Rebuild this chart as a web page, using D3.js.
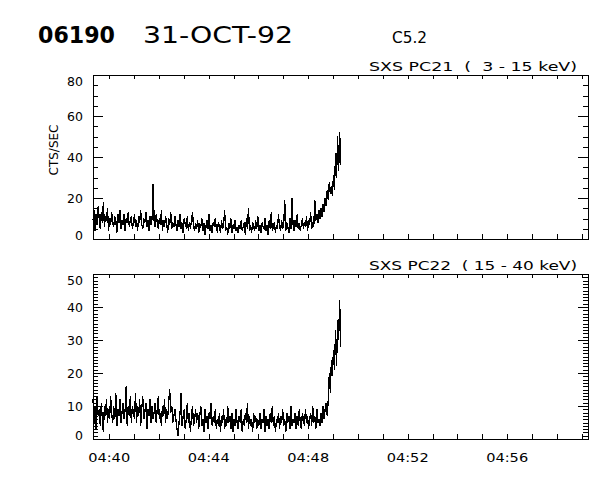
<!DOCTYPE html>
<html><head><meta charset="utf-8">
<script src="https://cdn.jsdelivr.net/npm/d3@7"></script>
<style>
body{margin:0;background:#fff}
svg{display:block;background:#fff}
text{font-family:"DejaVu Sans","Liberation Sans",Arial,sans-serif;fill:#000}
</style>
</head><body>
<svg id="chart" width="600" height="480"></svg>
<script>
// ---------- data ----------
const titleId = "06190";
const titleDate = "31-OCT-92";
const titleClass = "C5.2";
const yAxisTitle = "CTS/SEC";
const panelLabels = ["SXS PC21  (  3 - 15 keV)", "SXS PC22  ( 15 - 40 keV)"];
const xDomain = ["04:39:21", "04:59:15"];
const xTickLabels = ["04:40", "04:44", "04:48", "04:52", "04:56"];
const sampleStart = "04:39:21";
const sampleStepSec = 2.5;
const yTickLabelsTop = [0, 20, 40, 60, 80];
const yTickLabelsBottom = [0, 10, 20, 30, 40, 50];

const pc21 = [
  9,14,4,12,7,16,10,5,13,8,18,6,11,9,15,4,10,7,13,8,
  6,11,9,3,12,8,14,5,9,7,12,4,10,8,13,6,9,11,5,8,
  12,6,9,4,11,8,14,7,5,10,8,13,6,9,4,11,7,10,27,9,
  6,12,8,5,10,7,14,4,9,6,11,8,3,10,7,13,5,8,6,11,
  7,4,9,6,12,5,8,3,10,7,6,11,4,8,5,9,13,6,4,8,
  5,9,3,7,6,10,4,8,2,6,9,5,12,4,7,3,8,6,10,5,
  4,8,6,3,9,5,7,14,4,6,2,8,5,10,3,7,5,9,4,6,
  3,7,5,9,4,6,8,2,10,5,15,4,7,3,8,6,4,9,5,11,
  4,7,3,8,6,5,10,4,7,2,9,5,13,4,6,8,3,7,5,12,
  6,4,9,5,7,19,4,8,6,3,10,5,20,7,4,9,6,12,5,8,
  4,7,10,5,8,6,11,4,9,7,13,5,8,6,19,9,12,8,14,10,
  15,11,17,13,20,16,24,19,28,22,26,21,31,24,42,30,50,33,52,36
];
const pc22 = [
  12,5,10,3,13,7,9,4,11,6,2,10,7,12,5,9,6,13,8,5,
  10,6,14,4,9,7,12,5,8,11,6,9,16,4,10,7,13,5,10,8,
  6,14,5,10,7,12,4,9,13,6,8,11,3,9,7,12,5,10,6,8,
  11,5,9,13,6,8,4,10,7,12,5,9,6,11,15,8,10,5,7,9,
  6,3,1,5,8,14,4,7,9,3,6,11,5,8,2,7,10,4,6,9,
  5,8,3,7,10,4,6,2,9,5,7,3,8,6,11,4,7,5,9,3,
  6,4,8,2,7,5,9,3,6,4,10,5,7,3,8,2,6,4,9,5,
  3,7,5,9,2,6,4,8,5,11,3,7,4,6,2,8,5,7,3,6,
  4,8,3,6,5,9,2,7,4,6,3,8,5,10,4,7,2,6,5,8,
  3,7,5,9,4,6,2,8,5,7,3,10,4,6,5,8,3,7,4,9,
  5,3,8,6,4,9,5,7,3,6,8,4,10,5,7,3,9,5,6,4,
  8,5,10,6,9,11,7,12,20,14,24,19,27,21,33,22,36,30,42,28
];

// ---------- helpers ----------
const toSec = s => { const p = s.split(":").map(Number); return p[0]*3600 + p[1]*60 + (p[2]||0); };
const t0 = toSec(sampleStart);

const svg = d3.select("#chart");
const left = 93, right = 588;
const panels = [
  {top:75, bottom:239, data:pc21, max:80, major:yTickLabelsTop, minorStep:5, label:panelLabels[0]},
  {top:274, bottom:439, data:pc22, max:50, major:yTickLabelsBottom, minorStep:1, label:panelLabels[1]}
];

const x = d3.scaleLinear().domain(xDomain.map(toSec)).range([left, right]);
const minuteTicks = d3.range(Math.ceil(x.domain()[0]/60)*60, x.domain()[1], 60);

// titles
svg.append("text").attr("x",38).attr("y",43).attr("font-size",23).attr("font-weight","bold")
  .attr("textLength",77).attr("lengthAdjust","spacingAndGlyphs").text(titleId);
svg.append("text").attr("x",143).attr("y",43).attr("font-size",23)
  .attr("textLength",150).attr("lengthAdjust","spacingAndGlyphs").text(titleDate);
svg.append("text").attr("x",392).attr("y",43).attr("font-size",16)
  .attr("textLength",35).attr("lengthAdjust","spacingAndGlyphs").text(titleClass);

panels.forEach((p, pi) => {
  const y = d3.scaleLinear().domain([0, p.max]).range([p.bottom, p.top]);
  const g = svg.append("g");
  const minor = d3.range(0, p.max + 0.001, p.minorStep);

  const addAxis = (axis, tx, ty) => {
    const a = g.append("g").attr("transform",`translate(${tx},${ty})`).call(axis);
    a.select(".domain").remove();
    a.selectAll("line").attr("stroke","#000").attr("shape-rendering","crispEdges");
    a.selectAll("text").remove();
  };
  addAxis(d3.axisLeft(y).tickValues(minor).tickSize(-5).tickFormat(""), left, 0);
  addAxis(d3.axisLeft(y).tickValues(p.major).tickSize(-10).tickFormat(""), left, 0);
  addAxis(d3.axisRight(y).tickValues(minor).tickSize(-5).tickFormat(""), right, 0);
  addAxis(d3.axisRight(y).tickValues(p.major).tickSize(-10).tickFormat(""), right, 0);
  addAxis(d3.axisTop(x).tickValues(minuteTicks).tickSize(-4).tickFormat(""), 0, p.top);
  addAxis(d3.axisBottom(x).tickValues(minuteTicks).tickSize(-5).tickFormat(""), 0, p.bottom);

  // frame
  g.append("rect").attr("x",left+0.5).attr("y",p.top+0.5)
    .attr("width",right-left).attr("height",p.bottom-p.top)
    .attr("fill","none").attr("stroke","#000").attr("stroke-width",1);

  // y labels
  p.major.forEach((v, i) => {
    let yy = y(v) + 4.5;
    if (i === 0) yy -= 4;
    if (i === p.major.length - 1) yy += 6;
    g.append("text").attr("x",83).attr("y",yy).attr("text-anchor","end")
      .attr("font-size",12.5).text(v);
  });

  // panel label
  g.append("text").attr("x",577).attr("y",p.top - 4).attr("text-anchor","end")
    .attr("font-size",13).attr("textLength",208).attr("lengthAdjust","spacingAndGlyphs")
    .style("white-space","pre").text(p.label);

  // data line
  const line = d3.line()
    .x((d, i) => x(t0 + i*sampleStepSec))
    .y(d => y(d));
  g.append("path").datum(p.data).attr("d", line)
    .attr("fill","none").attr("stroke","#000").attr("stroke-width",1.3)
    .attr("shape-rendering","crispEdges");
});

// y axis title
svg.append("text").attr("transform","translate(58,150) rotate(-90)")
  .attr("text-anchor","middle").attr("font-size",12).text(yAxisTitle);

// x labels
xTickLabels.forEach(l => {
  svg.append("text").attr("x", x(toSec(l))).attr("y",462).attr("text-anchor","middle")
    .attr("font-size",13).attr("textLength",42).attr("lengthAdjust","spacingAndGlyphs").text(l);
});
</script>
</body></html>
